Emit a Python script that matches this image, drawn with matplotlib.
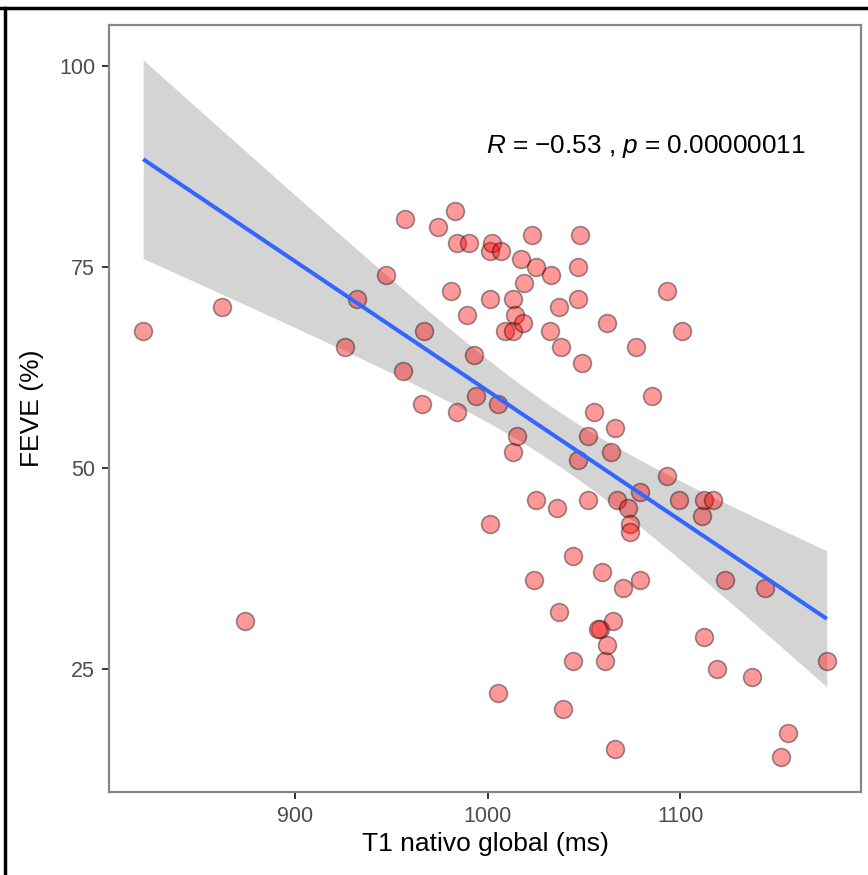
import numpy as np
import matplotlib
matplotlib.use("Agg")
import matplotlib.pyplot as plt
from matplotlib.lines import Line2D

plt.rcParams['font.family'] = ['Liberation Sans', 'DejaVu Sans']
plt.rcParams['mathtext.fontset'] = 'custom'
plt.rcParams['mathtext.it'] = 'Liberation Sans:italic'
plt.rcParams['mathtext.rm'] = 'Liberation Sans'

# ---- data ----
t1_native = [821, 862, 874, 926, 932, 947, 956, 957, 966, 967,
             974, 983, 981, 984, 984, 990, 989, 993, 994, 1001,
             1001, 1002, 1001, 1005, 1005, 1007, 1009, 1013, 1013, 1013,
             1014, 1015, 1017, 1018, 1019, 1023, 1025, 1025, 1024, 1033,
             1032, 1036, 1037, 1038, 1037, 1039, 1044, 1044, 1047, 1047,
             1048, 1047, 1049, 1052, 1052, 1055, 1058, 1057, 1059, 1061,
             1062, 1062, 1064, 1065, 1066, 1066, 1067, 1070, 1073, 1074,
             1074, 1077, 1079, 1079, 1085, 1093, 1093, 1099, 1101, 1112,
             1111, 1112, 1117, 1119, 1123, 1137, 1144, 1156, 1152, 1176]
feve = [67, 70, 31, 65, 71, 74, 62, 81, 58, 67,
        80, 82, 72, 78, 57, 78, 69, 64, 59, 43,
        77, 78, 71, 58, 22, 77, 67, 67, 52, 71,
        69, 54, 76, 68, 73, 79, 75, 46, 36, 74,
        67, 45, 70, 65, 32, 20, 39, 26, 75, 71,
        79, 51, 63, 54, 46, 57, 30, 30, 37, 26,
        28, 68, 52, 31, 55, 15, 46, 35, 45, 43,
        42, 65, 36, 47, 59, 72, 49, 46, 67, 29,
        44, 46, 46, 25, 36, 24, 35, 17, 14, 26]
x_ticks = [900, 1000, 1100]
y_ticks = [25, 50, 75, 100]
x_label = "T1 nativo global (ms)"
y_label = "FEVE (%)"
annot = r"$R$ = $-$0.53 , $p$ = 0.00000011"
T_975 = 1.987  # Student t quantile (0.975, df = n-2 = 88)

x = np.asarray(t1_native, float)
y = np.asarray(feve, float)
n = len(x)

# linear fit with 95% confidence band for the mean
b1, b0 = np.polyfit(x, y, 1)
xs = np.linspace(x.min(), x.max(), 200)
ys = b0 + b1 * xs
resid = y - (b0 + b1 * x)
s = np.sqrt(np.sum(resid ** 2) / (n - 2))
se = s * np.sqrt(1.0 / n + (xs - x.mean()) ** 2 / np.sum((x - x.mean()) ** 2))
lo, hi = ys - T_975 * se, ys + T_975 * se

fig = plt.figure(figsize=(8.68, 8.75), dpi=100)
ax = fig.add_axes([109 / 868, 1 - 792 / 875, (861 - 109) / 868, (792 - 25) / 875])

ax.fill_between(xs, lo, hi, color='#999999', alpha=0.42, linewidth=0, zorder=1)
ax.scatter(x, y, s=165, facecolor='red', edgecolor='black', linewidths=1.2,
           alpha=0.4, zorder=2)
ax.plot(xs, ys, color='#3366FF', linewidth=2.9, zorder=3, solid_capstyle='butt')

ax.margins(x=0.05, y=0.05)
ax.set_xticks(x_ticks)
ax.set_yticks(y_ticks)
ax.tick_params(axis='both', direction='out', length=5, width=1.4, color='#333333',
               labelsize=15.5, labelcolor='#4D4D4D', pad=5)
for sp in ax.spines.values():
    sp.set_color('#888888')
    sp.set_linewidth(1.6)

ax.set_xlabel(x_label, fontsize=19, color='black', labelpad=4)
ax.set_ylabel(y_label, fontsize=19, color='black', labelpad=11)

ax.text(486 / 868, 1 - 153 / 875, annot, transform=fig.transFigure, fontsize=18.8,
        ha='left', va='baseline', color='black')

# outer black frame (top and left edges visible)
fig.add_artist(Line2D([0, 1], [1 - 8 / 875, 1 - 8 / 875], transform=fig.transFigure,
                      color='black', linewidth=2.5))
fig.add_artist(Line2D([5 / 868, 5 / 868], [0, 1 - 8 / 875], transform=fig.transFigure,
                      color='black', linewidth=2.5))

fig.savefig('out.png', dpi=100)
